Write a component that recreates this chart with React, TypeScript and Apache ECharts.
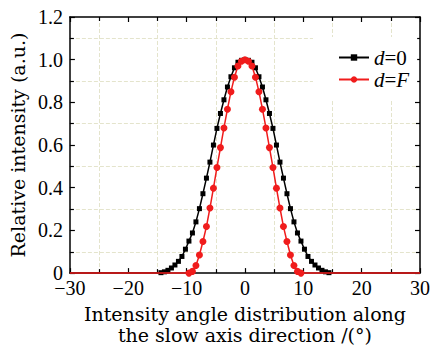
import React, { useEffect, useRef } from "react";
import * as echarts from "echarts";

// Angles (degrees) of the sampled points
const anglesD0 = [
  -14.4, -13.8, -13.2, -12.6, -12.0, -11.4, -10.8, -10.2, -9.6, -9.0, -8.4, -7.8, -7.2,
  -6.6, -6.0, -5.4, -4.8, -4.2, -3.6, -3.0, -2.4, -1.8, -1.2, -0.6, 0,
  0.6, 1.2, 1.8, 2.4, 3.0, 3.6, 4.2, 4.8, 5.4, 6.0, 6.6, 7.2,
  7.8, 8.4, 9.0, 9.6, 10.2, 10.8, 11.4, 12.0, 12.6, 13.2, 13.8, 14.4,
];
const valuesD0 = [
  0.002, 0.006, 0.013, 0.024, 0.038, 0.055, 0.078, 0.112, 0.150, 0.188, 0.240, 0.302, 0.372,
  0.445, 0.520, 0.600, 0.678, 0.748, 0.812, 0.872, 0.920, 0.962, 0.988, 0.997, 1.000,
  0.997, 0.988, 0.962, 0.920, 0.872, 0.812, 0.748, 0.678, 0.600, 0.520, 0.445, 0.372,
  0.302, 0.240, 0.188, 0.150, 0.112, 0.078, 0.055, 0.038, 0.024, 0.013, 0.006, 0.002,
];
const anglesDF = [
  -9.6, -9.0, -8.4, -7.8, -7.2, -6.6, -6.0, -5.4, -4.8, -4.2, -3.6, -3.0, -2.4, -1.8, -1.2, -0.6, 0,
  0.6, 1.2, 1.8, 2.4, 3.0, 3.6, 4.2, 4.8, 5.4, 6.0, 6.6, 7.2, 7.8, 8.4, 9.0, 9.6,
];
const valuesDF = [
  0.000, 0.008, 0.036, 0.085, 0.148, 0.218, 0.305, 0.398, 0.495, 0.588, 0.680, 0.768, 0.850, 0.918, 0.970, 0.993, 1.000,
  0.993, 0.970, 0.918, 0.850, 0.768, 0.680, 0.588, 0.495, 0.398, 0.305, 0.218, 0.148, 0.085, 0.036, 0.008, 0.000,
];
const xRange = [-30, 30];
const yRange = [0, 1.2];
const seriesNames = ["d=0", "d=F"];

const TICK_FONT = "'Liberation Serif', 'Times New Roman', serif";
const NAME_FONT = "'DejaVu Serif', serif";

function buildData(angles: number[], values: number[]) {
  const pts: any[] = angles.map((a, i) => [a, values[i]]);
  return [
    { value: [xRange[0], 0], symbol: "none" },
    ...pts,
    { value: [xRange[1], 0], symbol: "none" },
  ];
}

export default function App() {
  const ref = useRef<HTMLDivElement>(null);
  useEffect(() => {
    if (!ref.current) return;
    const chart = echarts.init(ref.current, null, { renderer: "svg" });
    const axisLine = { show: true, onZero: false, lineStyle: { color: "#000", width: 1.5 } };
    const tick = { show: true, inside: true, length: 5, lineStyle: { color: "#000", width: 1.2 } };
    const minorTick = { show: true, splitNumber: 2, length: 4, lineStyle: { color: "#000", width: 1.2 } };
    const minorSplit = { show: true, lineStyle: { color: "#e4e4cc", type: "dashed", width: 1 } };
    chart.setOption({
      animation: false,
      backgroundColor: "#fff",
      grid: { left: 66, right: 5, top: 17, bottom: 67, containLabel: false },
      legend: {
        data: seriesNames,
        orient: "vertical",
        left: 313,
        top: 37,
        padding: [10, 8, 10, 25],
        itemGap: 1,
        itemWidth: 30,
        itemHeight: 8,
        backgroundColor: "#fff",
        formatter: (n: string) => (n === "d=0" ? "{i|d}{n|=0}" : "{i|d}{n|=}{i|F}"),
        textStyle: {
          fontFamily: TICK_FONT,
          fontSize: 21,
          color: "#000",
          lineHeight: 20,
          rich: {
            i: { fontFamily: TICK_FONT, fontSize: 21, fontStyle: "italic", color: "#000" },
            n: { fontFamily: TICK_FONT, fontSize: 21, color: "#000" },
          },
        },
      },
      xAxis: [
        {
          type: "value",
          min: xRange[0],
          max: xRange[1],
          interval: 10,
          position: "bottom",
          axisLine,
          axisTick: tick,
          minorTick: { ...minorTick },
          splitLine: { show: false },
          minorSplitLine: minorSplit,
          axisLabel: {
            fontFamily: TICK_FONT,
            fontSize: 20,
            color: "#000",
            margin: 5,
            formatter: (v: number) => (v < 0 ? "\u2212" + Math.abs(v) : String(v)),
          },
          name: "Intensity angle distribution along\nthe slow axis direction /(°)",
          nameLocation: "middle",
          nameGap: 24,
          nameTextStyle: { fontFamily: NAME_FONT, fontSize: 19, color: "#000", lineHeight: 21 },
        },
        {
          type: "value",
          min: xRange[0],
          max: xRange[1],
          interval: 10,
          position: "top",
          axisLine,
          axisTick: tick,
          minorTick: { ...minorTick },
          splitLine: { show: false },
          axisLabel: { show: false },
        },
      ],
      yAxis: [
        {
          type: "value",
          min: yRange[0],
          max: yRange[1],
          interval: 0.2,
          position: "left",
          axisLine,
          axisTick: tick,
          minorTick: { ...minorTick },
          splitLine: { show: false },
          minorSplitLine: minorSplit,
          axisLabel: {
            fontFamily: TICK_FONT,
            fontSize: 20,
            color: "#000",
            margin: 7,
            formatter: (v: number) => (v === 0 ? "0" : v.toFixed(1)),
          },
          name: "Relative intensity (a.u.)",
          nameLocation: "middle",
          nameGap: 31,
          nameTextStyle: { fontFamily: NAME_FONT, fontSize: 19, color: "#000" },
        },
        {
          type: "value",
          min: yRange[0],
          max: yRange[1],
          interval: 0.2,
          position: "right",
          axisLine,
          axisTick: tick,
          minorTick: { ...minorTick },
          splitLine: { show: false },
          axisLabel: { show: false },
        },
      ],
      series: [
        {
          name: seriesNames[0],
          type: "line",
          data: buildData(anglesD0, valuesD0),
          symbol: "rect",
          symbolSize: 5,
          showAllSymbol: true,
          lineStyle: { color: "#000", width: 1.5 },
          itemStyle: { color: "#000" },
          clip: false,
          z: 2,
        },
        {
          name: seriesNames[1],
          type: "line",
          data: buildData(anglesDF, valuesDF),
          symbol: "circle",
          symbolSize: 7,
          showAllSymbol: true,
          lineStyle: { color: "#f01c1c", width: 1.5 },
          itemStyle: { color: "#f01c1c" },
          clip: false,
          z: 3,
        },
      ],
    });
    return () => chart.dispose();
  }, []);
  return (
    <div
      ref={ref}
      style={{ position: "fixed", left: 0, top: 0, width: 433, height: 350 }}
    />
  );
}
